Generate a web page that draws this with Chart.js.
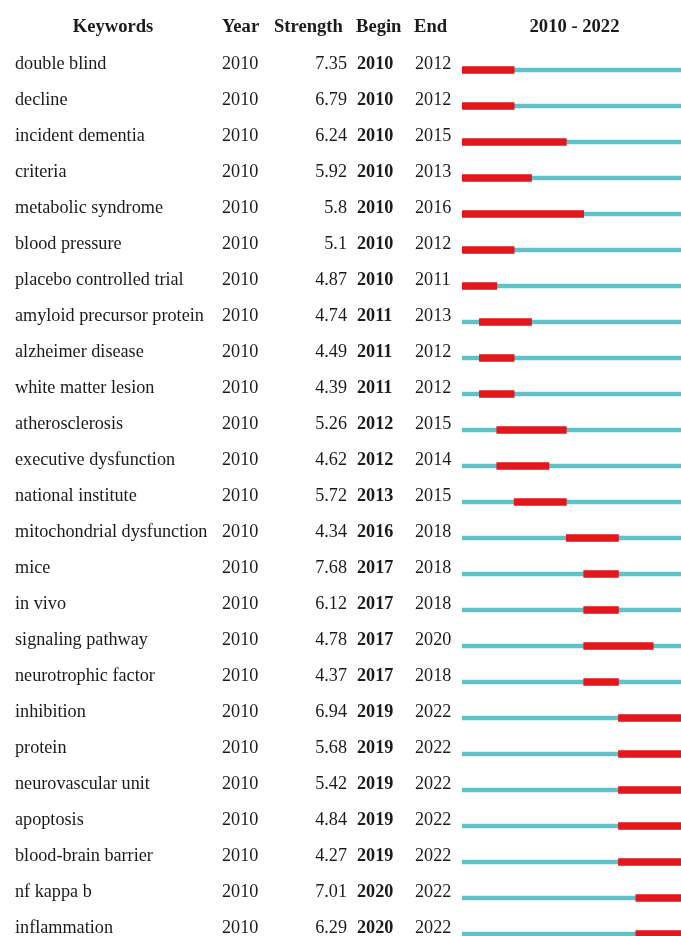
<!DOCTYPE html>
<html>
<head>
<meta charset="utf-8">
<title>Keyword bursts 2010 - 2022</title>
<script src="https://cdn.jsdelivr.net/npm/chart.js@4.4.0/dist/chart.umd.min.js"></script>
<style>
  html, body { margin: 0; padding: 0; background: #fff; overflow: hidden; }
  #wrap { width: 700px; height: 960px; }
</style>
</head>
<body>
<div id="wrap"><canvas id="burst" width="700" height="960"></canvas></div>
<script>
// keyword burst table, one row per keyword
const keywords = ['double blind', 'decline', 'incident dementia', 'criteria', 'metabolic syndrome',
  'blood pressure', 'placebo controlled trial', 'amyloid precursor protein', 'alzheimer disease',
  'white matter lesion', 'atherosclerosis', 'executive dysfunction', 'national institute',
  'mitochondrial dysfunction', 'mice', 'in vivo', 'signaling pathway', 'neurotrophic factor',
  'inhibition', 'protein', 'neurovascular unit', 'apoptosis', 'blood-brain barrier',
  'nf kappa b', 'inflammation'];
const years = [2010, 2010, 2010, 2010, 2010, 2010, 2010, 2010, 2010, 2010, 2010, 2010, 2010,
  2010, 2010, 2010, 2010, 2010, 2010, 2010, 2010, 2010, 2010, 2010, 2010];
const strength = ['7.35', '6.79', '6.24', '5.92', '5.8', '5.1', '4.87', '4.74', '4.49', '4.39',
  '5.26', '4.62', '5.72', '4.34', '7.68', '6.12', '4.78', '4.37', '6.94', '5.68', '5.42',
  '4.84', '4.27', '7.01', '6.29'];
const begin = [2010, 2010, 2010, 2010, 2010, 2010, 2010, 2011, 2011, 2011, 2012, 2012, 2013,
  2016, 2017, 2017, 2017, 2017, 2019, 2019, 2019, 2019, 2019, 2020, 2020];
const end = [2012, 2012, 2015, 2013, 2016, 2012, 2011, 2013, 2012, 2012, 2015, 2014, 2015,
  2018, 2018, 2018, 2020, 2018, 2022, 2022, 2022, 2022, 2022, 2022, 2022];
const rangeStart = 2010;
const rangeEnd = 2022;
const headers = ['Keywords', 'Year', 'Strength', 'Begin', 'End', rangeStart + ' - ' + rangeEnd];

const serif = '"Liberation Serif", "Times New Roman", serif';
const textColor = '#1b1b1b';
const bodyFont = '18.2px ' + serif;
const boldFont = 'bold 18.2px ' + serif;
const headFont = 'bold 18.6px ' + serif;

// each year fills a whole cell, so a burst runs from begin to end + 1
const burstBars = begin.map((b, i) => [b, end[i] + 1]);
const timeline = years.map(() => [rangeStart, rangeEnd + 1]);

// table text columns drawn next to the bars, rows follow the y scale
const tableText = {
  id: 'tableText',
  afterDraw(chart) {
    const ctx = chart.ctx;
    const y = chart.scales.y;
    const x = chart.scales.x;
    ctx.save();
    ctx.fillStyle = textColor;
    ctx.textBaseline = 'alphabetic';

    // header line
    ctx.font = headFont;
    ctx.textAlign = 'center';
    ctx.fillText(headers[0], 113, 32);
    ctx.textAlign = 'left';
    ctx.fillText(headers[1], 222, 32);
    ctx.fillText(headers[2], 274, 32);
    ctx.fillText(headers[3], 356, 32);
    ctx.fillText(headers[4], 414, 32);
    ctx.textAlign = 'center';
    ctx.fillText(headers[5], (x.getPixelForValue(rangeStart) + x.getPixelForValue(rangeEnd + 1)) / 2 - 0.5, 32);

    keywords.forEach((kw, i) => {
      const base = y.getPixelForValue(i) - 1;
      ctx.font = bodyFont;
      ctx.textAlign = 'left';
      ctx.fillText(kw, 15, base);
      ctx.fillText(String(years[i]), 222, base);
      ctx.textAlign = 'right';
      ctx.fillText(strength[i], 347, base);
      ctx.textAlign = 'left';
      ctx.fillText(String(end[i]), 415, base);
      ctx.font = boldFont;
      ctx.fillText(String(begin[i]), 357, base);
    });
    ctx.restore();
  }
};

new Chart(document.getElementById('burst'), {
  type: 'bar',
  data: {
    labels: keywords,
    datasets: [
      {
        label: 'Burst',
        data: burstBars,
        backgroundColor: '#e3161b',
        barThickness: 7,
        grouped: false
      },
      {
        label: 'Timeline',
        data: timeline,
        backgroundColor: '#5fc2c6',
        barThickness: 4,
        grouped: false
      }
    ]
  },
  options: {
    indexAxis: 'y',
    responsive: false,
    animation: false,
    layout: { padding: { left: 462, right: 12, top: 52, bottom: 8 } },
    plugins: { legend: { display: false }, tooltip: { enabled: false } },
    scales: {
      x: { display: false, min: rangeStart, max: rangeEnd + 1 },
      y: { display: false }
    }
  },
  plugins: [tableText]
});
</script>
</body>
</html>
